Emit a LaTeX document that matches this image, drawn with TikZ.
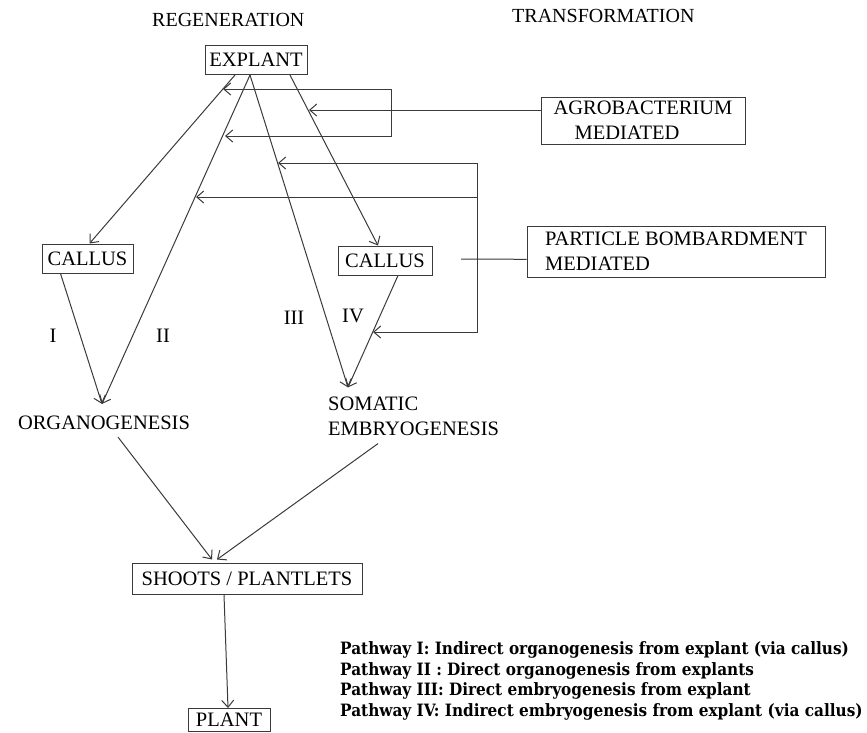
\documentclass[tikz,border=0pt]{standalone}
\usepackage{fontspec}
\setmainfont{Liberation Serif}
\newfontfamily\legendfont{DejaVu Serif Condensed}
\definecolor{linegray}{HTML}{3A3A3A}
\usetikzlibrary{arrows.meta, positioning}
\tikzset{
	boxnode/.style={
			draw=linegray,
			line width=1pt,
			rectangle,
			font=\fontsize{20.5}{25}\selectfont,
			inner xsep=4pt,
			inner ysep=0pt,
			minimum height=29pt
		},
	plainnode/.style={
			font=\fontsize{20.5}{25}\selectfont,
			inner sep=0pt
		},
	titlenode/.style={
			font=\fontsize{20}{22}\selectfont,
			inner sep=0pt
		},
	legendnode/.style={
			font=\legendfont\bfseries\fontsize{17}{20.5}\selectfont,
			inner sep=0pt,
			align=left
		},
	flowline/.style={
			draw=linegray,
			line width=1pt
		},
	flowarrow/.style={
			flowline,
			-{Straight Barb[length=7pt,width=12pt]}
		},
	twoarrow/.style={
			flowline,
			{Straight Barb[length=7pt,width=12pt]}-{Straight Barb[length=7pt,width=12pt]}
		}
}

\begin{document}
\begin{tikzpicture}[x=1pt, y=-1pt]
\useasboundingbox (0,0) rectangle (867,732);

\node[titlenode, anchor=west] (regen) at (152,20) {REGENERATION};
\node[titlenode, anchor=west] (transf) at (512,16) {TRANSFORMATION};

\node[boxnode, minimum width=102pt] (explant) at (256,60) {EXPLANT};
\node[boxnode, minimum width=91pt] (lcallus) at (87.5,258.5) {CALLUS};
\node[boxnode, minimum width=94pt] (rcallus) at (385,260.5) {CALLUS};
\node[plainnode] (organo) at (104,423) {ORGANOGENESIS};
\node[plainnode, align=left, anchor=west] (somatic) at (328,416) {SOMATIC\\EMBRYOGENESIS};
\node[boxnode, minimum width=230pt, minimum height=31pt] (shoots) at (247,578.5) {SHOOTS / PLANTLETS};
\node[boxnode, minimum width=82pt, minimum height=23pt] (plant) at (229,720) {PLANT};

\node[boxnode, align=left, minimum width=204pt, minimum height=47pt] (agro) at (643,120.5) {AGROBACTERIUM\\\hspace*{21pt}MEDIATED};
\node[boxnode, align=left, minimum width=298pt, minimum height=51pt] (partbomb) at (676,251.5) {PARTICLE BOMBARDMENT\\MEDIATED};

\node[plainnode] (lblI) at (53,336) {I};
\node[plainnode] (lblII) at (163,336) {II};
\node[plainnode] (lblIII) at (294,318) {III};
\node[plainnode] (lblIV) at (353,316) {IV};

\node[legendnode, anchor=west] (legend) at (340,681) {Pathway I: Indirect organogenesis from explant (via callus)\\
Pathway II : Direct organogenesis from explants\\
Pathway III: Direct embryogenesis from explant\\
Pathway IV: Indirect embryogenesis from explant (via callus)};

% regeneration pathways
\draw[flowarrow] ([xshift=-21pt]explant.south) -- ([xshift=2pt]lcallus.north);
\draw[flowarrow] ([xshift=-6pt]explant.south) -- ([xshift=-2pt,yshift=12pt]organo.north);
\draw[flowarrow] ([xshift=-6pt]explant.south) -- ([xshift=20pt,yshift=9pt]somatic.north west);
\draw[flowarrow] ([xshift=34pt]explant.south) -- ([xshift=-7pt]rcallus.north);
\draw[flowarrow] ([xshift=-27pt]lcallus.south) -- ([xshift=-2pt,yshift=12pt]organo.north);
\draw[flowarrow] ([xshift=13pt]rcallus.south) -- ([xshift=20pt,yshift=9pt]somatic.north west);

\draw[flowarrow] ([xshift=14pt,yshift=-7pt]organo.south) -- ([xshift=-35pt,yshift=3pt]shoots.north);
\draw[flowarrow] ([xshift=50pt,yshift=-8pt]somatic.south west) -- ([xshift=-30pt,yshift=3pt]shoots.north);
\draw[flowarrow] ([xshift=-23pt]shoots.south) -- ([xshift=-1pt]plant.north);

% transformation inputs
\coordinate (agrotop) at (391,89);
\coordinate (agrobot) at (391,136);
\coordinate (tipA) at (223,89);
\coordinate (tipB) at (225,136);
\coordinate (tipC) at (309,110);
\draw[flowarrow] ([yshift=10.5pt]agro.west) -- (tipC);
\draw[twoarrow] (tipA) -- (agrotop) -- (agrobot) -- (tipB);

\coordinate (bombtop) at (477,163);
\coordinate (bombmid) at (477,197);
\coordinate (bombbot) at (477,332);
\coordinate (tipD) at (278,163);
\coordinate (tipE) at (196,197);
\coordinate (tipF) at (373,332);
\coordinate (bombstub) at (461,259);
\draw[twoarrow] (tipD) -- (bombtop) -- (bombbot) -- (tipF);
\draw[flowarrow] (bombmid) -- (tipE);
\draw[flowline] ([yshift=-7.8pt]partbomb.west) -- (bombstub);
\end{tikzpicture}
\end{document}
